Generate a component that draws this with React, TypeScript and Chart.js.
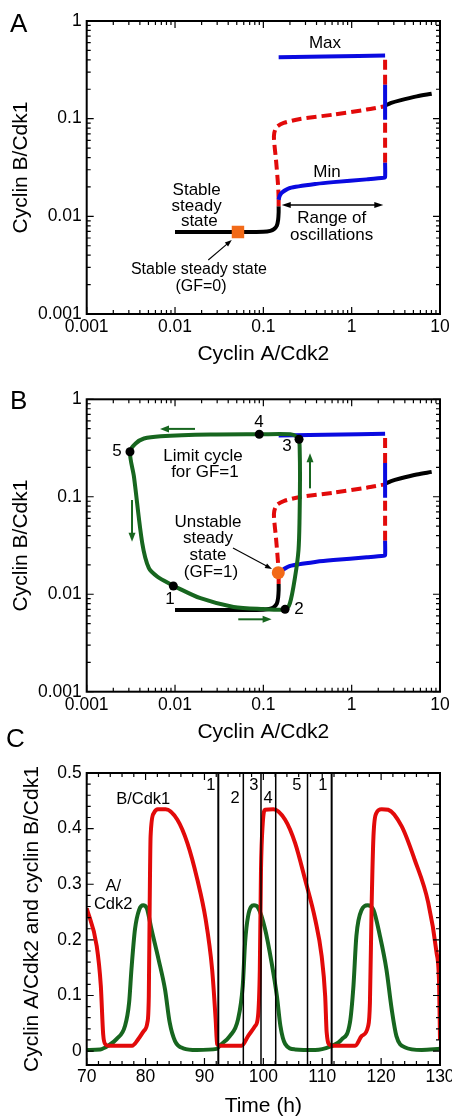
import React, { useEffect, useRef } from 'react';
import { Chart, registerables } from 'chart.js';

Chart.register(...registerables);

const FONT = "'Liberation Sans', Arial, Helvetica, sans-serif";
const W = 452;

const BLACK = '#000000';
const BLUE = '#0a0ae0';
const RED = '#e20a0a';
const GREEN = '#17661f';
const ORANGE = '#f26a18';

// ---------- axis ticks ----------
const LOG_X_TICKS = [0.001, 0.01, 0.1, 1, 10];
const LOG_X_LABELS = ['0.001', '0.01', '0.1', '1', '10'];
const LOG_Y_TICKS = [0.001, 0.01, 0.1, 1];
const LOG_Y_LABELS = ['0.001', '0.01', '0.1', '1'];
const TIME_TICKS = [70, 80, 90, 100, 110, 120, 130];
const TIME_LABELS = ['70', '80', '90', '100', '110', '120', '130'];
const LEVEL_TICKS = [0, 0.1, 0.2, 0.3, 0.4, 0.5];
const LEVEL_LABELS = ['0', '0.1', '0.2', '0.3', '0.4', '0.5'];
const LEVEL_MIN = -0.025;

// ---------- bifurcation diagram (panels A and B): [cyclin A/Cdk2, cyclin B/Cdk1] ----------
const STABLE_LOW: [number, number][] = [
  [0.01, 0.0069], [0.03, 0.0069], [0.06, 0.0069], [0.1, 0.00695], [0.12, 0.0071],
  [0.132, 0.0074], [0.142, 0.008], [0.147, 0.0092], [0.149, 0.011], [0.149, 0.0127],
];
const HOPF_BIT: [number, number][] = [[0.149, 0.0127], [0.149, 0.0148]];
const UNSTABLE_SS: [number, number][] = [
  [0.149, 0.0148], [0.147, 0.0204], [0.139, 0.038], [0.132, 0.061], [0.133, 0.0715],
  [0.142, 0.0825], [0.17, 0.0904], [0.26, 0.0993], [0.62, 0.11], [1.48, 0.124], [2.39, 0.134],
];
const CYCLE_MIN: [number, number][] = [
  [0.149, 0.0148], [0.153, 0.0162], [0.162, 0.0175], [0.2, 0.0195], [0.4, 0.0215],
  [0.62, 0.0224], [1.48, 0.0239], [2.29, 0.0248], [2.39, 0.0253], [2.39, 0.0353],
];
const UNSTABLE_CYCLE_LOW: [number, number][] = [[2.39, 0.0353], [2.39, 0.0977]];
const CYCLE_EDGE: [number, number][] = [[2.39, 0.0977], [2.39, 0.222]];
const UNSTABLE_CYCLE_HIGH: [number, number][] = [[2.39, 0.222], [2.39, 0.43]];
const CYCLE_MAX: [number, number][] = [[0.149, 0.426], [0.5, 0.432], [1.2, 0.437], [2.39, 0.443]];
const STABLE_HIGH: [number, number][] = [
  [2.39, 0.136], [2.8, 0.145], [3.53, 0.154], [5.45, 0.169], [8.05, 0.18],
];
const STEADY_GF0: [number, number][] = [[0.0516, 0.0069]];

// limit cycle for GF=1 (panel B)
const LIMIT_CYCLE: [number, number][] = [
  [0.0096, 0.0122], [0.0194, 0.0091], [0.046, 0.0074], [0.1, 0.00705], [0.176, 0.007],
  [0.2, 0.0081], [0.229, 0.0152], [0.25, 0.0284], [0.257, 0.06], [0.26, 0.16],
  [0.258, 0.3], [0.2535, 0.389], [0.24, 0.414], [0.202, 0.4375], [0.0899, 0.4375],
  [0.0252, 0.435], [0.00686, 0.418], [0.00445, 0.396], [0.00358, 0.352], [0.00309, 0.29],
  [0.00343, 0.16], [0.00426, 0.0333], [0.00506, 0.0185], [0.0063, 0.0152], [0.0096, 0.0122],
];
const CYCLE_POINTS: [number, number][] = [
  [0.00957, 0.01216], [0.176, 0.007], [0.2535, 0.389], [0.0899, 0.4375], [0.00309, 0.29],
];
const STEADY_GF1: [number, number][] = [[0.1476, 0.01663]];

// ---------- time course (panel C) ----------
const B_CDK1_T = [
  70, 71.7, 72.4, 72.8, 73.2, 73.8, 77.7, 78.8, 79.7, 80.3, 80.55, 80.7, 80.85, 81.4, 82.1,
  83.4, 85.4, 87.1, 88.8, 90.2, 91.3, 91.9, 92.15, 92.7, 96.3, 97.4, 98.6, 99.1, 99.4, 99.6,
  99.9, 100.3, 101.7, 103.7, 105.4, 107.1, 108.8, 109.9, 110.5, 110.75, 111.3, 111.9, 115.6,
  116.7, 117.8, 118.1, 118.4, 118.7, 119.2, 120.1, 121.2, 123.5, 125.7, 128.0, 129.4, 129.85, 130,
];
const B_CDK1 = [
  0.257, 0.189, 0.117, 0.03, 0.012, 0.0095, 0.0095, 0.022, 0.036, 0.051, 0.1, 0.267, 0.386, 0.428, 0.435,
  0.435, 0.416, 0.374, 0.308, 0.237, 0.147, 0.057, 0.0125, 0.0095, 0.0095, 0.027, 0.045, 0.063, 0.147, 0.326,
  0.41, 0.434, 0.435, 0.416, 0.374, 0.308, 0.237, 0.171, 0.099, 0.034, 0.011, 0.0095, 0.0095,
  0.027, 0.045, 0.087, 0.267, 0.386, 0.428, 0.435, 0.434, 0.404, 0.344, 0.267, 0.178, 0.12, 0.02,
];
const A_CDK2_T = [
  70, 72.3, 73.7, 75.1, 76.5, 77.2, 77.6, 78.2, 78.9, 79.6, 80.2, 81.0, 82.2, 83.3, 84.1,
  85.0, 86.4, 88.7, 92.1, 92.6, 94.3, 95.7, 96.5, 96.9, 97.4, 98.4, 99.1, 100.3, 101.4, 102.3,
  102.9, 103.7, 105.4, 108.8, 111.3, 113.3, 114.7, 115.3, 115.8, 116.7, 117.7, 118.7, 119.8, 120.9, 121.8,
  122.6, 124.0, 126.9, 130,
];
const A_CDK2 = [
  0.002, 0.003, 0.01, 0.022, 0.045, 0.087, 0.147, 0.219, 0.254, 0.262, 0.257, 0.219, 0.165, 0.111, 0.051,
  0.018, 0.005, 0.002, 0.004, 0.01, 0.027, 0.057, 0.117, 0.195, 0.242, 0.262, 0.258, 0.219, 0.159, 0.099,
  0.045, 0.013, 0.003, 0.002, 0.008, 0.021, 0.051, 0.117, 0.207, 0.254, 0.262, 0.254, 0.207, 0.147, 0.075,
  0.027, 0.007, 0.002, 0.004,
];
const PHASE_LINE_T = [92.35, 96.6, 99.6, 102.1, 107.5, 111.6];
const PHASE_LABELS = ['1', '2', '3', '4', '5', '1'];
const PHASE_LABEL_T = [91.1, 95.2, 98.4, 100.8, 105.7, 110.1];
const PHASE_LABEL_Y = [0.477, 0.454, 0.477, 0.454, 0.477, 0.477];

// ---------- annotations: [text, x, y] in data units ----------
type Note = [string, number, number];
const A_NOTES: Note[] = [
  ['Max', 0.499, 0.595], ['Min', 0.525, 0.0284],
  ['Stable', 0.01758, 0.01862], ['steady', 0.01758, 0.01256], ['state', 0.01884, 0.00881],
  ['Range of', 0.594, 0.00955], ['oscillations', 0.594, 0.00644],
];
const A_NOTES_SMALL: Note[] = [['Stable steady state', 0.01866, 0.00282], ['(GF=0)', 0.01968, 0.00189]];
const B_NOTES: Note[] = [
  ['Limit cycle', 0.02075, 0.262], ['for GF=1', 0.0218, 0.1795],
  ['Unstable', 0.0236, 0.0551], ['steady', 0.0236, 0.0378], ['state', 0.0236, 0.0253], ['(GF=1)', 0.0255, 0.0169],
  ['1', 0.00877, 0.00893], ['2', 0.2535, 0.00706], ['3', 0.1854, 0.332], ['4', 0.0893, 0.585], ['5', 0.0022, 0.295],
];
const C_NOTES: Note[] = [['B/Cdk1', 79.6, 0.452], ['A/', 74.5, 0.296], ['Cdk2', 74.5, 0.264]];

// arrows: [fromX, fromY, toX, toY]
type Seg = [number, number, number, number];
const A_POINTER: Seg[] = [[0.0238, 0.00357, 0.0439, 0.00573]];
const A_RANGE: Seg[] = [[0.1615, 0.01306, 2.28, 0.01306]];
const B_POINTER: Seg[] = [[0.0453, 0.0298, 0.1253, 0.01815]];
const B_FLOW: Seg[] = [
  [0.01683, 0.497, 0.00676, 0.497],
  [0.00326, 0.0927, 0.00326, 0.0346],
  [0.052, 0.00553, 0.124, 0.00553],
  [0.3375, 0.122, 0.3375, 0.279],
];

// ---------- helpers ----------
const pts = (a: [number, number][]) => a.map(([x, y]) => ({ x, y }));
const zip = (xs: number[], ys: number[]) => xs.map((x, i) => ({ x, y: ys[i] }));

function curve(data: any[], color: string, order: number, extra: any = {}) {
  return {
    data, showLine: true, borderColor: color, backgroundColor: color, borderWidth: 4,
    pointRadius: 0, pointHoverRadius: 0, tension: 0, fill: false, order,
    borderJoinStyle: 'round', borderCapStyle: 'butt', ...extra,
  };
}
function marks(data: any[], color: string, radius: number, style: string, order: number) {
  return {
    data, showLine: false, pointRadius: radius, pointHoverRadius: radius, pointStyle: style,
    backgroundColor: color, borderColor: color, borderWidth: 0, order,
  };
}

type TickSpec = { log: boolean; from?: number; major?: number; minor?: number };

function tickValues(scale: any, spec: TickSpec) {
  const out: { v: number; major: boolean }[] = [];
  const min = scale.min, max = scale.max;
  if (spec.log) {
    const e0 = Math.floor(Math.log10(min) + 1e-9), e1 = Math.ceil(Math.log10(max) - 1e-9);
    for (let e = e0; e <= e1; e++) {
      for (let k = 1; k <= 9; k++) {
        const v = k * Math.pow(10, e);
        if (v >= min * 0.999 && v <= max * 1.001) out.push({ v, major: k === 1 });
      }
    }
  } else {
    const from = spec.from!, minor = spec.minor!, major = spec.major!;
    const n = Math.round((max - from) / minor);
    for (let i = 0; i <= n; i++) {
      const v = from + i * minor;
      const r = (v - from) / major;
      out.push({ v, major: Math.abs(r - Math.round(r)) < 1e-6 });
    }
  }
  return out;
}

function drawArrow(ctx: any, x1: number, y1: number, x2: number, y2: number, color: string,
  width: number, head: number, headW: number, both: boolean) {
  const dx = x2 - x1, dy = y2 - y1, L = Math.hypot(dx, dy) || 1, ux = dx / L, uy = dy / L;
  ctx.strokeStyle = color; ctx.fillStyle = color; ctx.lineWidth = width;
  const sx = both ? x1 + ux * head * 0.8 : x1, sy = both ? y1 + uy * head * 0.8 : y1;
  ctx.beginPath(); ctx.moveTo(sx, sy); ctx.lineTo(x2 - ux * head * 0.8, y2 - uy * head * 0.8); ctx.stroke();
  const tri = (tx: number, ty: number, vx: number, vy: number) => {
    const bx = tx - vx * head, by = ty - vy * head;
    ctx.beginPath();
    ctx.moveTo(tx, ty);
    ctx.lineTo(bx - vy * headW / 2, by + vx * headW / 2);
    ctx.lineTo(bx + vy * headW / 2, by - vx * headW / 2);
    ctx.closePath(); ctx.fill();
  };
  tri(x2, y2, ux, uy);
  if (both) tri(x1, y1, -ux, -uy);
}

interface ArrowGroup { items: Seg[]; color: string; width: number; head: number; headW: number; both?: boolean }
interface Overlay {
  x: TickSpec; y: TickSpec;
  notes: { items: Note[]; size: number }[];
  arrows: ArrowGroup[];
  yTitle?: { text: string; x: number; size: number };
}

function overlayPlugin(o: Overlay) {
  return {
    id: 'overlay',
    afterDatasetsDraw(chart: any) {
      const { ctx, chartArea: a } = chart;
      const xs = chart.scales.x, ys = chart.scales.y;
      ctx.save();
      ctx.strokeStyle = '#000'; ctx.lineWidth = 1.2; ctx.lineCap = 'butt';
      ctx.beginPath();
      for (const t of tickValues(xs, o.x)) {
        const p = xs.getPixelForValue(t.v);
        if (p < a.left - 0.5 || p > a.right + 0.5) continue;
        const len = t.major ? 7 : 4;
        ctx.moveTo(p, a.bottom); ctx.lineTo(p, a.bottom - len);
        ctx.moveTo(p, a.top); ctx.lineTo(p, a.top + len);
      }
      for (const t of tickValues(ys, o.y)) {
        const p = ys.getPixelForValue(t.v);
        if (p < a.top - 0.5 || p > a.bottom + 0.5) continue;
        const len = t.major ? 7 : 4;
        ctx.moveTo(a.left, p); ctx.lineTo(a.left + len, p);
        ctx.moveTo(a.right, p); ctx.lineTo(a.right - len, p);
      }
      ctx.stroke();
      ctx.lineWidth = 2;
      ctx.strokeRect(a.left, a.top, a.right - a.left, a.bottom - a.top);

      for (const g of o.arrows) {
        for (const [fx, fy, tx, ty] of g.items) {
          drawArrow(ctx, xs.getPixelForValue(fx), ys.getPixelForValue(fy), xs.getPixelForValue(tx),
            ys.getPixelForValue(ty), g.color, g.width, g.head, g.headW, !!g.both);
        }
      }

      ctx.fillStyle = '#000'; ctx.textAlign = 'center'; ctx.textBaseline = 'middle';
      for (const g of o.notes) {
        ctx.font = `${g.size}px ${FONT}`;
        for (const [text, x, y] of g.items) ctx.fillText(text, xs.getPixelForValue(x), ys.getPixelForValue(y));
      }
      if (o.yTitle) {
        ctx.font = `${o.yTitle.size}px ${FONT}`;
        ctx.translate(o.yTitle.x, (a.top + a.bottom) / 2);
        ctx.rotate(-Math.PI / 2);
        ctx.fillText(o.yTitle.text, 0, 0);
      }
      ctx.restore();
    },
  };
}

interface AxisOpts {
  type: 'logarithmic' | 'linear'; pos: 'bottom' | 'left'; min: number; max: number;
  ticks: number[]; labels: string[]; size: number; tickPad: number; title?: string; titlePad?: any;
}
function axis(o: AxisOpts) {
  const horiz = o.pos === 'bottom';
  return {
    type: o.type, position: o.pos, min: o.min, max: o.max,
    grid: { display: false, drawTicks: false }, border: { display: false },
    afterBuildTicks: (s: any) => { s.ticks = o.ticks.map((v) => ({ value: v })); },
    afterFit: (s: any) => {
      if (horiz) s.height = o.size; else s.width = o.size;
      s.paddingLeft = 0; s.paddingRight = 0; s.paddingTop = 0; s.paddingBottom = 0;
    },
    ticks: {
      autoSkip: false, maxRotation: 0, minRotation: 0, padding: o.tickPad, color: '#000',
      font: { family: FONT, size: 17.5 }, callback: (_v: any, i: number) => o.labels[i],
    },
    title: o.title
      ? { display: true, text: o.title, color: '#000', font: { family: FONT, size: 21 }, padding: o.titlePad }
      : { display: false },
  };
}

function baseOptions(padTop: number, scales: any) {
  return {
    responsive: false, animation: false, events: [],
    layout: { padding: { top: padTop, right: 12, left: 0, bottom: 0 } },
    plugins: { legend: { display: false }, tooltip: { enabled: false }, title: { display: false } },
    scales,
  };
}

function bifurcationSets() {
  return [
    curve(pts(STABLE_LOW), BLACK, 6, { tension: 0.25 }),
    curve(pts(HOPF_BIT), RED, 5),
    curve(pts(UNSTABLE_SS), RED, 5, { borderDash: [10, 5], tension: 0.25 }),
    curve(pts(CYCLE_MIN), BLUE, 4, { tension: 0.2 }),
    curve(pts(UNSTABLE_CYCLE_LOW), RED, 5, { borderDash: [10, 5] }),
    curve(pts(CYCLE_EDGE), BLUE, 4),
    curve(pts(UNSTABLE_CYCLE_HIGH), RED, 5, { borderDash: [10, 5] }),
    curve(pts(CYCLE_MAX), BLUE, 4),
    curve(pts(STABLE_HIGH), BLACK, 6, { tension: 0.3 }),
  ];
}

function logScales(xSize: number, xTitlePad: number) {
  return {
    x: axis({ type: 'logarithmic', pos: 'bottom', min: 0.001, max: 10, ticks: LOG_X_TICKS, labels: LOG_X_LABELS,
      size: xSize, tickPad: 3, title: 'Cyclin A/Cdk2', titlePad: { top: 0, bottom: xTitlePad } }),
    y: axis({ type: 'logarithmic', pos: 'left', min: 0.001, max: 1, ticks: LOG_Y_TICKS, labels: LOG_Y_LABELS,
      size: 86.7, tickPad: 5, title: 'Cyclin B/Cdk1', titlePad: { top: 8.4, bottom: 0 } }),
  };
}

function configA() {
  return {
    type: 'scatter',
    data: { datasets: [...bifurcationSets(), marks(pts(STEADY_GF0), ORANGE, 8.8, 'rect', 0)] },
    options: baseOptions(21, logScales(56, 2.7)),
    plugins: [overlayPlugin({
      x: { log: true }, y: { log: true },
      notes: [{ items: A_NOTES, size: 17 }, { items: A_NOTES_SMALL, size: 16 }],
      arrows: [
        { items: A_POINTER, color: BLACK, width: 1.1, head: 7, headW: 5 },
        { items: A_RANGE, color: BLACK, width: 1.5, head: 9, headW: 6, both: true },
      ],
    })],
  };
}

function configB() {
  return {
    type: 'scatter',
    data: {
      datasets: [
        ...bifurcationSets(),
        curve(pts(LIMIT_CYCLE), GREEN, 2, { tension: 0.3 }),
        marks(pts(CYCLE_POINTS), BLACK, 4.5, 'circle', 0),
        marks(pts(STEADY_GF1), ORANGE, 6.5, 'circle', 0),
      ],
    },
    options: baseOptions(29.3, logScales(54.3, 1.0)),
    plugins: [overlayPlugin({
      x: { log: true }, y: { log: true },
      notes: [{ items: B_NOTES, size: 17 }],
      arrows: [
        { items: B_POINTER, color: BLACK, width: 1.1, head: 7, headW: 5 },
        { items: B_FLOW, color: GREEN, width: 2, head: 9, headW: 7 },
      ],
    })],
  };
}

function configC() {
  const lines = PHASE_LINE_T.map((t, i) =>
    curve([{ x: t, y: LEVEL_MIN }, { x: t, y: LEVEL_TICKS[LEVEL_TICKS.length - 1] }], BLACK, 0,
      { borderWidth: PHASE_LABELS[i] === '1' ? 2 : 1.5 }));
  const phaseNotes: Note[] = PHASE_LABELS.map((s, i) => [s, PHASE_LABEL_T[i], PHASE_LABEL_Y[i]]);
  return {
    type: 'scatter',
    data: {
      datasets: [
        ...lines,
        curve(zip(B_CDK1_T, B_CDK1), RED, 1, { cubicInterpolationMode: 'monotone' }),
        curve(zip(A_CDK2_T, A_CDK2), GREEN, 2, { cubicInterpolationMode: 'monotone' }),
      ],
    },
    options: baseOptions(33, {
      x: axis({ type: 'linear', pos: 'bottom', min: 70, max: 130, ticks: TIME_TICKS, labels: TIME_LABELS,
        size: 54, tickPad: 2, title: 'Time (h)', titlePad: { top: 0, bottom: 0.6 } }),
      y: axis({ type: 'linear', pos: 'left', min: LEVEL_MIN, max: 0.5, ticks: LEVEL_TICKS, labels: LEVEL_LABELS,
        size: 86.7, tickPad: 5 }),
    }),
    plugins: [overlayPlugin({
      x: { log: false, from: 70, major: 10, minor: 2 },
      y: { log: false, from: 0, major: 0.1, minor: 0.02 },
      notes: [{ items: [...C_NOTES, ...phaseNotes], size: 16.5 }],
      arrows: [],
      yTitle: { text: 'Cyclin A/Cdk2 and cyclin B/Cdk1', x: 32, size: 21 },
    })],
  };
}

function ChartCanvas({ top, height, make }: { top: number; height: number; make: () => any }) {
  const ref = useRef<HTMLCanvasElement | null>(null);
  useEffect(() => {
    if (!ref.current) return;
    const chart = new Chart(ref.current, make());
    return () => chart.destroy();
  }, []);
  return (
    <canvas ref={ref} width={W} height={height}
      style={{ position: 'absolute', left: 0, top, width: W, height, display: 'block' }} />
  );
}

const letterStyle: React.CSSProperties = {
  position: 'absolute', fontFamily: FONT, fontSize: 26, lineHeight: '26px', color: '#000',
};

export default function App() {
  return (
    <div style={{ position: 'absolute', left: 0, top: 0, width: W, height: 1119, background: '#fff', overflow: 'hidden' }}>
      <ChartCanvas top={0} height={370} make={configA} />
      <ChartCanvas top={370} height={376} make={configB} />
      <ChartCanvas top={740} height={379} make={configC} />
      <div style={{ ...letterStyle, left: 10, top: 9.6 }}>A</div>
      <div style={{ ...letterStyle, left: 10, top: 387.3 }}>B</div>
      <div style={{ ...letterStyle, left: 6, top: 725 }}>C</div>
    </div>
  );
}
